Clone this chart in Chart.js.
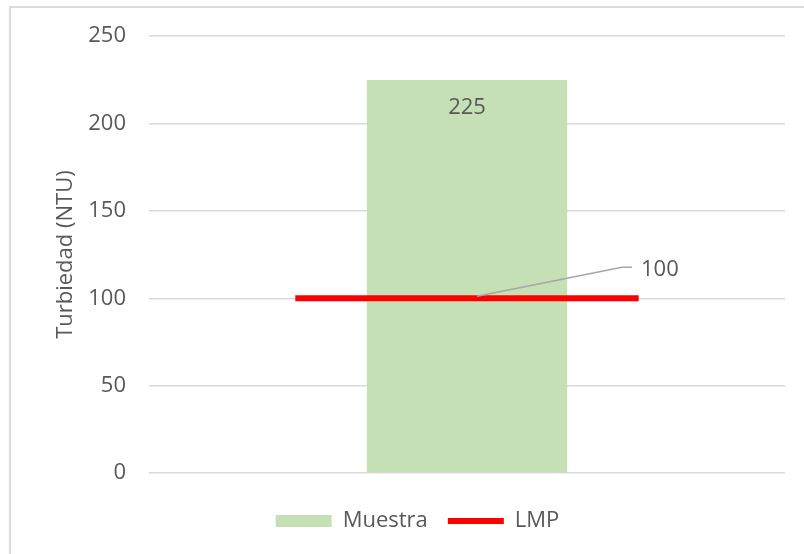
<!DOCTYPE html>
<html>
<head>
<meta charset="utf-8">
<script src="https://cdn.jsdelivr.net/npm/chart.js@4.4.1/dist/chart.umd.min.js"></script>
<style>
  html, body { margin: 0; padding: 0; background: #ffffff; }
  #wrap { position: absolute; left: 0; top: 0; width: 804px; height: 554px; }
  #frame { position: absolute; left: 9px; top: 6px; width: 795px; height: 548px;
           border-top: 2px solid #dcdcdc; border-left: 2px solid #dcdcdc; box-sizing: border-box; }
</style>
</head>
<body>
<div id="wrap">
  <div id="frame"></div>
  <canvas id="c" width="804" height="554"></canvas>
</div>
<script>
// ---- data ----
const categories = ['Muestra'];
const muestra = [225];
const lmp = [100];
const yTicks = [0, 50, 100, 150, 200, 250];
const seriesNames = ['Muestra', 'LMP'];
const axisTitle = 'Turbiedad (NTU)';

const FONT = "'Open Sans', sans-serif";
const TEXT = '#595959';

// LMP segment endpoints on a hidden 0..1 axis
const lmpLine = lmp.flatMap(v => [{ x: 0, y: v }, { x: 1, y: v }]);

const labelsPlugin = {
  id: 'valueLabels',
  afterDatasetsDraw(chart) {
    const ctx = chart.ctx;
    const y = chart.scales.y;
    const barMeta = chart.getDatasetMeta(0);
    ctx.save();
    ctx.font = "22px " + FONT;
    ctx.fillStyle = TEXT;
    ctx.textAlign = 'center';
    ctx.textBaseline = 'middle';
    barMeta.data.forEach((bar, i) => {
      ctx.fillText(String(muestra[i]), bar.x, y.getPixelForValue(muestra[i]) + 28);
    });
    // LMP label with leader line
    const cx = barMeta.data[0].x;
    const ly = y.getPixelForValue(lmp[0]);
    ctx.strokeStyle = '#a6a6a6';
    ctx.lineWidth = 1.5;
    ctx.beginPath();
    ctx.moveTo(cx + 10, ly - 2);
    ctx.lineTo(cx + 155, ly - 31);
    ctx.lineTo(cx + 165, ly - 31);
    ctx.stroke();
    ctx.textAlign = 'left';
    ctx.fillText(String(lmp[0]), cx + 174, ly - 29);
    ctx.restore();
  }
};

new Chart(document.getElementById('c'), {
  type: 'bar',
  data: {
    labels: categories,
    datasets: [
      {
        type: 'bar',
        label: seriesNames[0],
        data: muestra,
        backgroundColor: '#c5e0b4',
        borderWidth: 0,
        barPercentage: 0.315,
        categoryPercentage: 1,
        grouped: false,
        order: 2,
        pointStyle: 'rect'
      },
      {
        type: 'line',
        label: seriesNames[1],
        data: lmpLine,
        xAxisID: 'xl',
        borderColor: '#ff0000',
        backgroundColor: '#ff0000',
        borderWidth: 6,
        pointRadius: 0,
        pointStyle: 'line',
        order: 1
      }
    ]
  },
  options: {
    responsive: false,
    animation: false,
    layout: { padding: { left: 50, right: 19, top: 36, bottom: 12 } },
    plugins: {
      tooltip: { enabled: false },
      legend: {
        position: 'bottom',
        labels: {
          usePointStyle: true,
          pointStyleWidth: 56,
          boxHeight: 12,
          boxWidth: 56,
          padding: 20,
          color: TEXT,
          font: { family: FONT, size: 22 },
          sort: (a, b) => a.datasetIndex - b.datasetIndex
        }
      }
    },
    scales: {
      x: {
        type: 'category',
        offset: true,
        display: true,
        ticks: { display: false },
        grid: { display: false, drawTicks: false },
        border: { display: false },
        afterFit(s) { s.height = 17; }
      },
      xl: {
        type: 'linear',
        display: false,
        offset: false,
        min: -0.426,
        max: 1.426
      },
      y: {
        min: 0,
        max: 250,
        afterBuildTicks(s) { s.ticks = yTicks.map(v => ({ value: v })); },
        afterFit(s) { s.width = 99; },
        ticks: {
          color: TEXT,
          padding: 23,
          font: { family: FONT, size: 22 }
        },
        grid: { color: '#d9d9d9', lineWidth: 1.5, drawTicks: false },
        border: { display: false },
        title: {
          display: true,
          text: axisTitle,
          color: TEXT,
          font: { family: FONT, size: 22 },
          padding: { top: 3, bottom: 0 }
        }
      }
    }
  },
  plugins: [labelsPlugin]
});
</script>
</body>
</html>
